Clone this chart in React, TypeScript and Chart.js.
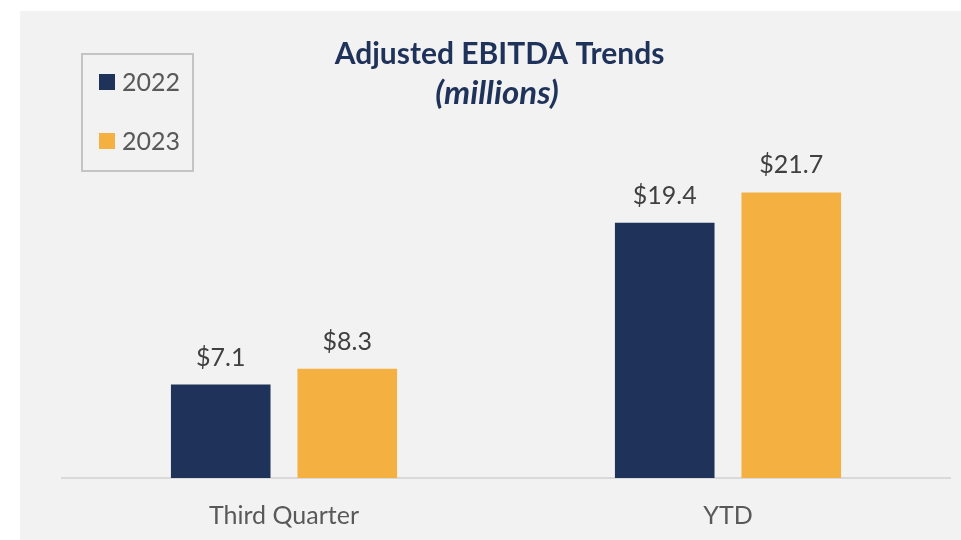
import React, { useEffect, useRef } from "react";
import { Chart, registerables } from "chart.js";

Chart.register(...registerables);

const categories = ["Third Quarter", "YTD"];
const seriesLabels = ["2022", "2023"];
const values2022 = [7.1, 19.4];
const values2023 = [8.3, 21.7];
const titleText = "Adjusted EBITDA Trends";
const subtitleText = "(millions)";

const NAVY = "#1f3259";
const ORANGE = "#f4b041";
const FONT = "Lato, 'Open Sans', sans-serif";

const overlayPlugin = {
  id: "overlay",
  afterDatasetsDraw(chart: any) {
    const ctx = chart.ctx;
    ctx.save();
    // data labels
    ctx.font = `25px ${FONT}`;
    ctx.fillStyle = "#404040";
    ctx.textAlign = "center";
    ctx.textBaseline = "alphabetic";
    chart.data.datasets.forEach((ds: any, di: number) => {
      const meta = chart.getDatasetMeta(di);
      meta.data.forEach((bar: any, i: number) => {
        const v = ds.data[i];
        ctx.fillText(`$${v.toFixed(1)}`, bar.x, bar.y - 19);
      });
    });
    // title
    ctx.fillStyle = "#1f3259";
    ctx.font = `bold 30px ${FONT}`;
    ctx.fillText(titleText, 479.5, 53);
    ctx.font = `italic bold 33px ${FONT}`;
    ctx.fillText(subtitleText, 477, 93);
    // legend
    ctx.strokeStyle = "#c4c4c4";
    ctx.lineWidth = 2;
    ctx.strokeRect(62, 43, 111, 117);
    ctx.textAlign = "left";
    ctx.font = `25px ${FONT}`;
    chart.data.datasets.forEach((ds: any, di: number) => {
      const y = 63 + di * 59;
      ctx.fillStyle = ds.backgroundColor;
      ctx.fillRect(79, y, 16, 16);
      ctx.fillStyle = "#595959";
      ctx.fillText(ds.label, 102, y + 17);
    });
    ctx.restore();
  },
};

function App() {
  const ref = useRef<HTMLCanvasElement | null>(null);
  useEffect(() => {
    if (!ref.current) return;
    const chart = new Chart(ref.current, {
      type: "bar",
      data: {
        labels: categories,
        datasets: [
          { label: seriesLabels[0], data: values2022, backgroundColor: NAVY },
          { label: seriesLabels[1], data: values2023, backgroundColor: ORANGE },
        ],
      },
      options: {
        animation: false,
        responsive: false,
        maintainAspectRatio: false,
        layout: { padding: { left: 42, right: 11, top: 138, bottom: 0 } },
        datasets: { bar: { categoryPercentage: 0.57, barPercentage: 0.787 } },
        plugins: {
          legend: { display: false },
          title: { display: false },
          tooltip: { enabled: false },
        },
        scales: {
          x: {
            grid: { display: false, drawTicks: false },
            border: { display: true, color: "#d9d9d9", width: 2 },
            ticks: { color: "#595959", font: { family: FONT, size: 25 }, padding: 23 },
            afterFit: (s: any) => {
              s.height = 62;
            },
          },
          y: { display: false, min: 0, max: 25 },
        },
      },
      plugins: [overlayPlugin],
    });
    return () => chart.destroy();
  }, []);
  return (
    <div
      style={{
        position: "absolute",
        left: 20,
        top: 11,
        width: 941,
        height: 529,
        background: "#f2f2f2",
      }}
    >
      <canvas ref={ref} width={941} height={529} style={{ display: "block" }} />
    </div>
  );
}

export default App;
